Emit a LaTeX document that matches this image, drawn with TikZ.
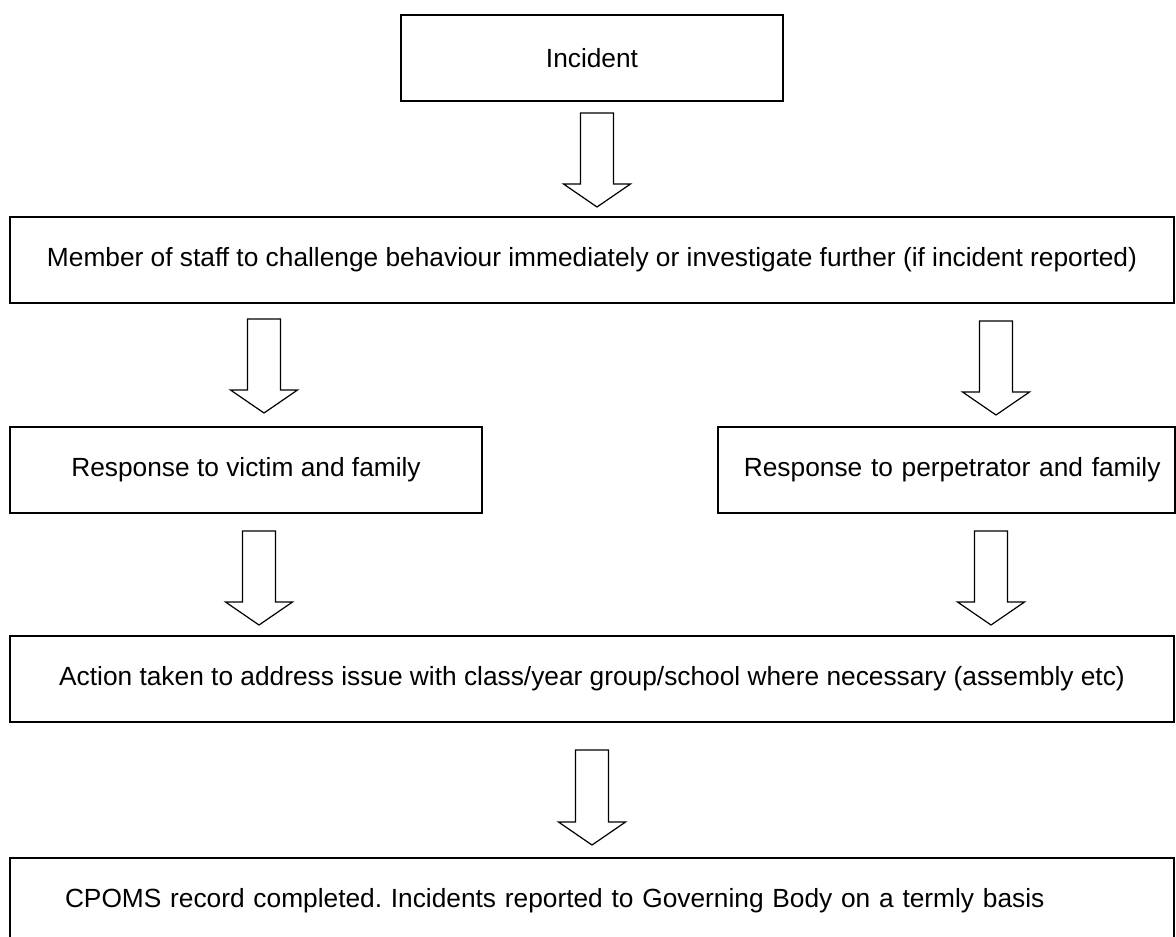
\documentclass[tikz,border=0pt]{standalone}
\usepackage{fontspec}
\setmainfont{Liberation Sans}
\usetikzlibrary{calc}
\frenchspacing

\tikzset{
  box/.style={draw, line width=0.7pt, inner sep=0pt,
    font=\fontsize{13.15pt}{15pt}\selectfont},
  blockarrow/.style={draw, line width=0.6pt, to path={
    let \p1=(\tikztostart), \p2=(\tikztotarget) in
    (\x1-8.25pt,\y1) -- (\x1+8.25pt,\y1) -- (\x1+8.25pt,\y2+11.5pt)
    -- (\x1+16.75pt,\y2+11.5pt) -- (\x1,\y2) -- (\x1-16.75pt,\y2+11.5pt)
    -- (\x1-8.25pt,\y2+11.5pt) -- cycle}}
}

\begin{document}
\begin{tikzpicture}[x=0.5pt, y=-0.5pt]
   \useasboundingbox (0,0) rectangle (1176,936);
   % boxes
   \node[box, minimum width=191pt, minimum height=43pt] (incident) at (592,58) {Incident};
   \node[box, minimum width=582pt, minimum height=43pt] (member) at (592,260)
     {Member of staff to challenge behaviour immediately or investigate further (if incident reported)};
   \node[box, minimum width=236pt, minimum height=43pt] (victim) at (246,470) {Response to victim and family};
   \node[box, minimum width=228.5pt, minimum height=43pt, text width=214pt, align=right] (perp) at (946.5,470)
     {Response to perpetrator and family};
   \node[box, minimum width=582pt, minimum height=43pt] (action) at (592,679)
     {Action taken to address issue with class/year group/school where necessary (assembly etc)};
   \node[box, minimum height=43pt, text width=527pt, inner xsep=27.5pt, align=left] (cpoms) at (592,901)
     {CPOMS record completed. Incidents reported to Governing Body on a termly basis};

   % block arrows
   \foreach \i/\x/\t/\b in {1/597/113/207, 2/264/319/413, 3/996/321/415,
                            4/259/531/625, 5/991/531/625, 6/592/750/845}
   {
     \coordinate (top\i) at (\x,\t);
     \coordinate (tip\i) at (\x,\b);
     \draw[blockarrow] (top\i) to (tip\i);
   }
\end{tikzpicture}
\end{document}
